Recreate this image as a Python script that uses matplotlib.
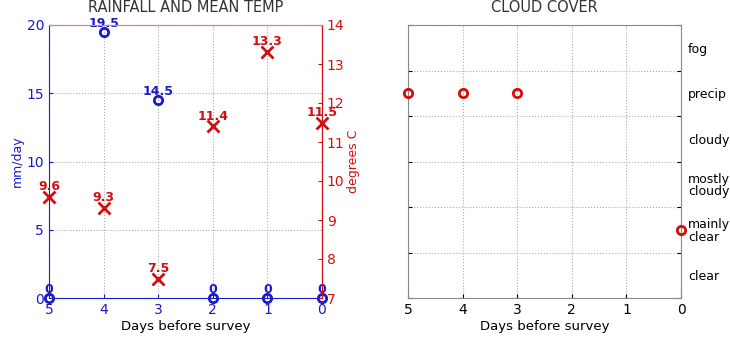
import numpy as np
import matplotlib.pyplot as plt

# data
days = [5, 4, 3, 2, 1, 0]
rain = [0, 19.5, 14.5, 0, 0, 0]          # mm/day
temp = [9.6, 9.3, 7.5, 11.4, 13.3, 11.5]  # degrees C
cloud = [4.5, 4.5, 4.5, np.nan, np.nan, 1.5]
cloud_labels = ['clear', 'mainly\nclear', 'mostly\ncloudy', 'cloudy', 'precip', 'fog']

blue = '#1a1acc'
red = '#d01010'

fig = plt.figure(figsize=(7.3, 3.4), dpi=100)

# left panel: rainfall and temperature
ax1 = fig.add_axes([49/730, 42/340, 273/730, 273/340])
ax1.plot(days, rain, 'o', ms=6, mfc='none', mec=blue, mew=2, clip_on=False, zorder=5)
for d, r in zip(days, rain):
    ax1.text(d, r + 0.15, '%g' % r, color=blue, ha='center', va='bottom',
             fontsize=9, fontweight='bold', zorder=6)
ax1.set_xlim(5, 0)
ax1.set_ylim(0, 20)
ax1.set_xticks(days)
ax1.set_yticks([0, 5, 10, 15, 20])
ax1.tick_params(colors=blue, labelsize=10, direction='in', length=3)
ax1.set_ylabel('mm/day', color=blue, fontsize=9, labelpad=2)
ax1.set_xlabel('Days before survey', fontsize=9.5, labelpad=2)
ax1.grid(True, ls=':', color='#aaaaaa', lw=0.8)
ax1.set_title('RAINFALL AND MEAN TEMP', fontsize=10.5, color='#333333', pad=9)
for s in ['left', 'bottom']:
    ax1.spines[s].set_color(blue)
ax1.spines['top'].set_color('#e08080')

ax2 = ax1.twinx()
ax2.plot(days, temp, 'x', ms=9, mec=red, mew=2, clip_on=False, zorder=5)
for d, t in zip(days, temp):
    ax2.text(d, t + 0.1, '%.1f' % t, color=red, ha='center', va='bottom',
             fontsize=9, fontweight='bold', zorder=6)
ax2.set_ylim(7, 14)
ax2.set_yticks(range(7, 15))
ax2.tick_params(colors=red, labelsize=10, direction='in', length=3)
ax2.set_ylabel('degrees C', color=red, fontsize=9, labelpad=2)
ax2.spines['right'].set_color(red)
ax2.spines['top'].set_color('#e08080')
ax2.spines['left'].set_visible(False)
ax2.spines['bottom'].set_visible(False)

# right panel: cloud cover
ax3 = fig.add_axes([408/730, 42/340, 273/730, 273/340])
ax3.plot(days, cloud, 'o', ms=6, mfc='none', mec=red, mew=2, clip_on=False, zorder=5)
ax3.set_xlim(5, 0)
ax3.set_ylim(0, 6)
ax3.set_xticks(days)
ax3.set_yticks(range(0, 7))
ax3.set_yticklabels([])
ax3.set_yticks(np.arange(0.5, 6, 1), minor=True)
ax3.set_yticklabels(cloud_labels, minor=True, linespacing=0.95)
ax3.tick_params(axis='y', which='minor', length=0, labelright=True, labelleft=False,
                labelsize=9, pad=5)
ax3.tick_params(axis='both', which='major', direction='in', length=3,
                left=True, right=True, labelsize=10)
ax3.grid(True, which='major', ls=':', color='#aaaaaa', lw=0.8)
ax3.set_xlabel('Days before survey', fontsize=9.5, labelpad=2)
ax3.set_title('CLOUD COVER', fontsize=10.5, color='#333333', pad=9)
for s in ax3.spines.values():
    s.set_color('#888888')

fig.savefig('out.png', dpi=100)
